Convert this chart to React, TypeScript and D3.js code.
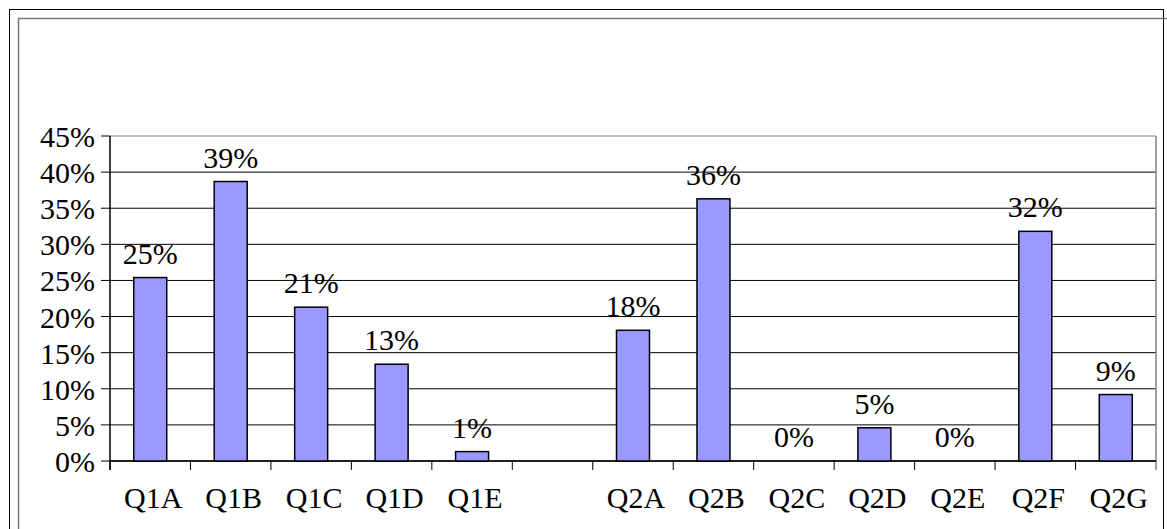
import React from 'react';
import * as d3 from 'd3';

// chart data
const categories = ['Q1A', 'Q1B', 'Q1C', 'Q1D', 'Q1E', '', 'Q2A', 'Q2B', 'Q2C', 'Q2D', 'Q2E', 'Q2F', 'Q2G'];
const values: (number | null)[] = [0.254, 0.387, 0.213, 0.134, 0.013, null, 0.181, 0.363, 0, 0.046, 0, 0.318, 0.092];
const yTicks = [0, 0.05, 0.1, 0.15, 0.2, 0.25, 0.3, 0.35, 0.4, 0.45];

const W = 1167;
const H = 529;
const txt = { fontFamily: "'Liberation Serif', 'DejaVu Serif', serif", fontSize: '30px' };

const App = () => {
  const left = 110;
  const right = 1156;
  const top = 136;
  const bottom = 461;

  const xScale = d3.scaleBand<number>()
    .domain(d3.range(categories.length))
    .range([left, right]);

  const yScale = d3.scaleLinear()
    .domain([0, 0.45])
    .range([bottom, top]);

  const fmt = d3.format('.0%');
  const bw = xScale.bandwidth() * 0.41;

  const grid = yTicks.map((t, i) => (
    <g key={'g' + i}>
      <line x1={left} x2={right} y1={yScale(t)} y2={yScale(t)}
        stroke={t === 0.45 ? '#808080' : '#000'} strokeWidth={1} />
      <line x1={left - 9} x2={left} y1={yScale(t)} y2={yScale(t)} stroke="#000" />
      <text x={left - 15} y={yScale(t) + 11} textAnchor="end" style={txt}>
        {fmt(t)}
      </text>
    </g>
  ));

  const xticks = d3.range(categories.length).map((i) => (
    <line key={'t' + i} x1={xScale(i)} x2={xScale(i)} y1={bottom} y2={bottom + 9} stroke="#000" />
  ));

  const bars = values.map((v, i) => {
    if (v === null) return null;
    const cx = (xScale(i) as number) + xScale.bandwidth() / 2;
    return (
      <g key={'b' + i}>
        {v > 0 && (
          <rect x={cx - bw / 2} y={yScale(v)} width={bw} height={bottom - yScale(v)}
            fill="#9999FF" stroke="#000" strokeWidth={1.5} />
        )}
        <text x={cx} y={yScale(v) - 14} textAnchor="middle" style={txt}>
          {fmt(v)}
        </text>
      </g>
    );
  });

  const labels = categories.map((c, i) => (
    <text key={'l' + i} x={(xScale(i) as number) + xScale.bandwidth() / 2 + 3} y={508}
      textAnchor="middle" style={txt}>{c}</text>
  ));

  return (
    <svg width={W} height={H} style={{ position: 'absolute', left: 0, top: 0, background: '#fff' }}>
      {/* outer frame */}
      <line x1={9} x2={1163} y1={9.5} y2={9.5} stroke="#000" />
      <line x1={9.5} x2={9.5} y1={9} y2={H} stroke="#000" />
      <line x1={1163.5} x2={1163.5} y1={9} y2={H} stroke="#000" />
      <line x1={18} x2={W} y1={18.5} y2={18.5} stroke="#777" strokeWidth={1.5} />
      <line x1={18.5} x2={18.5} y1={18} y2={H} stroke="#777" strokeWidth={1.5} />
      {grid}
      <line x1={right} x2={right} y1={top} y2={bottom + 9} stroke="#808080" strokeWidth={1.5} />
      <line x1={left} x2={left} y1={top} y2={bottom + 9} stroke="#000" strokeWidth={1.5} />
      <line x1={left} x2={right} y1={bottom} y2={bottom} stroke="#000" strokeWidth={1.5} />
      {xticks}
      {bars}
      {labels}
    </svg>
  );
};

export default App;
